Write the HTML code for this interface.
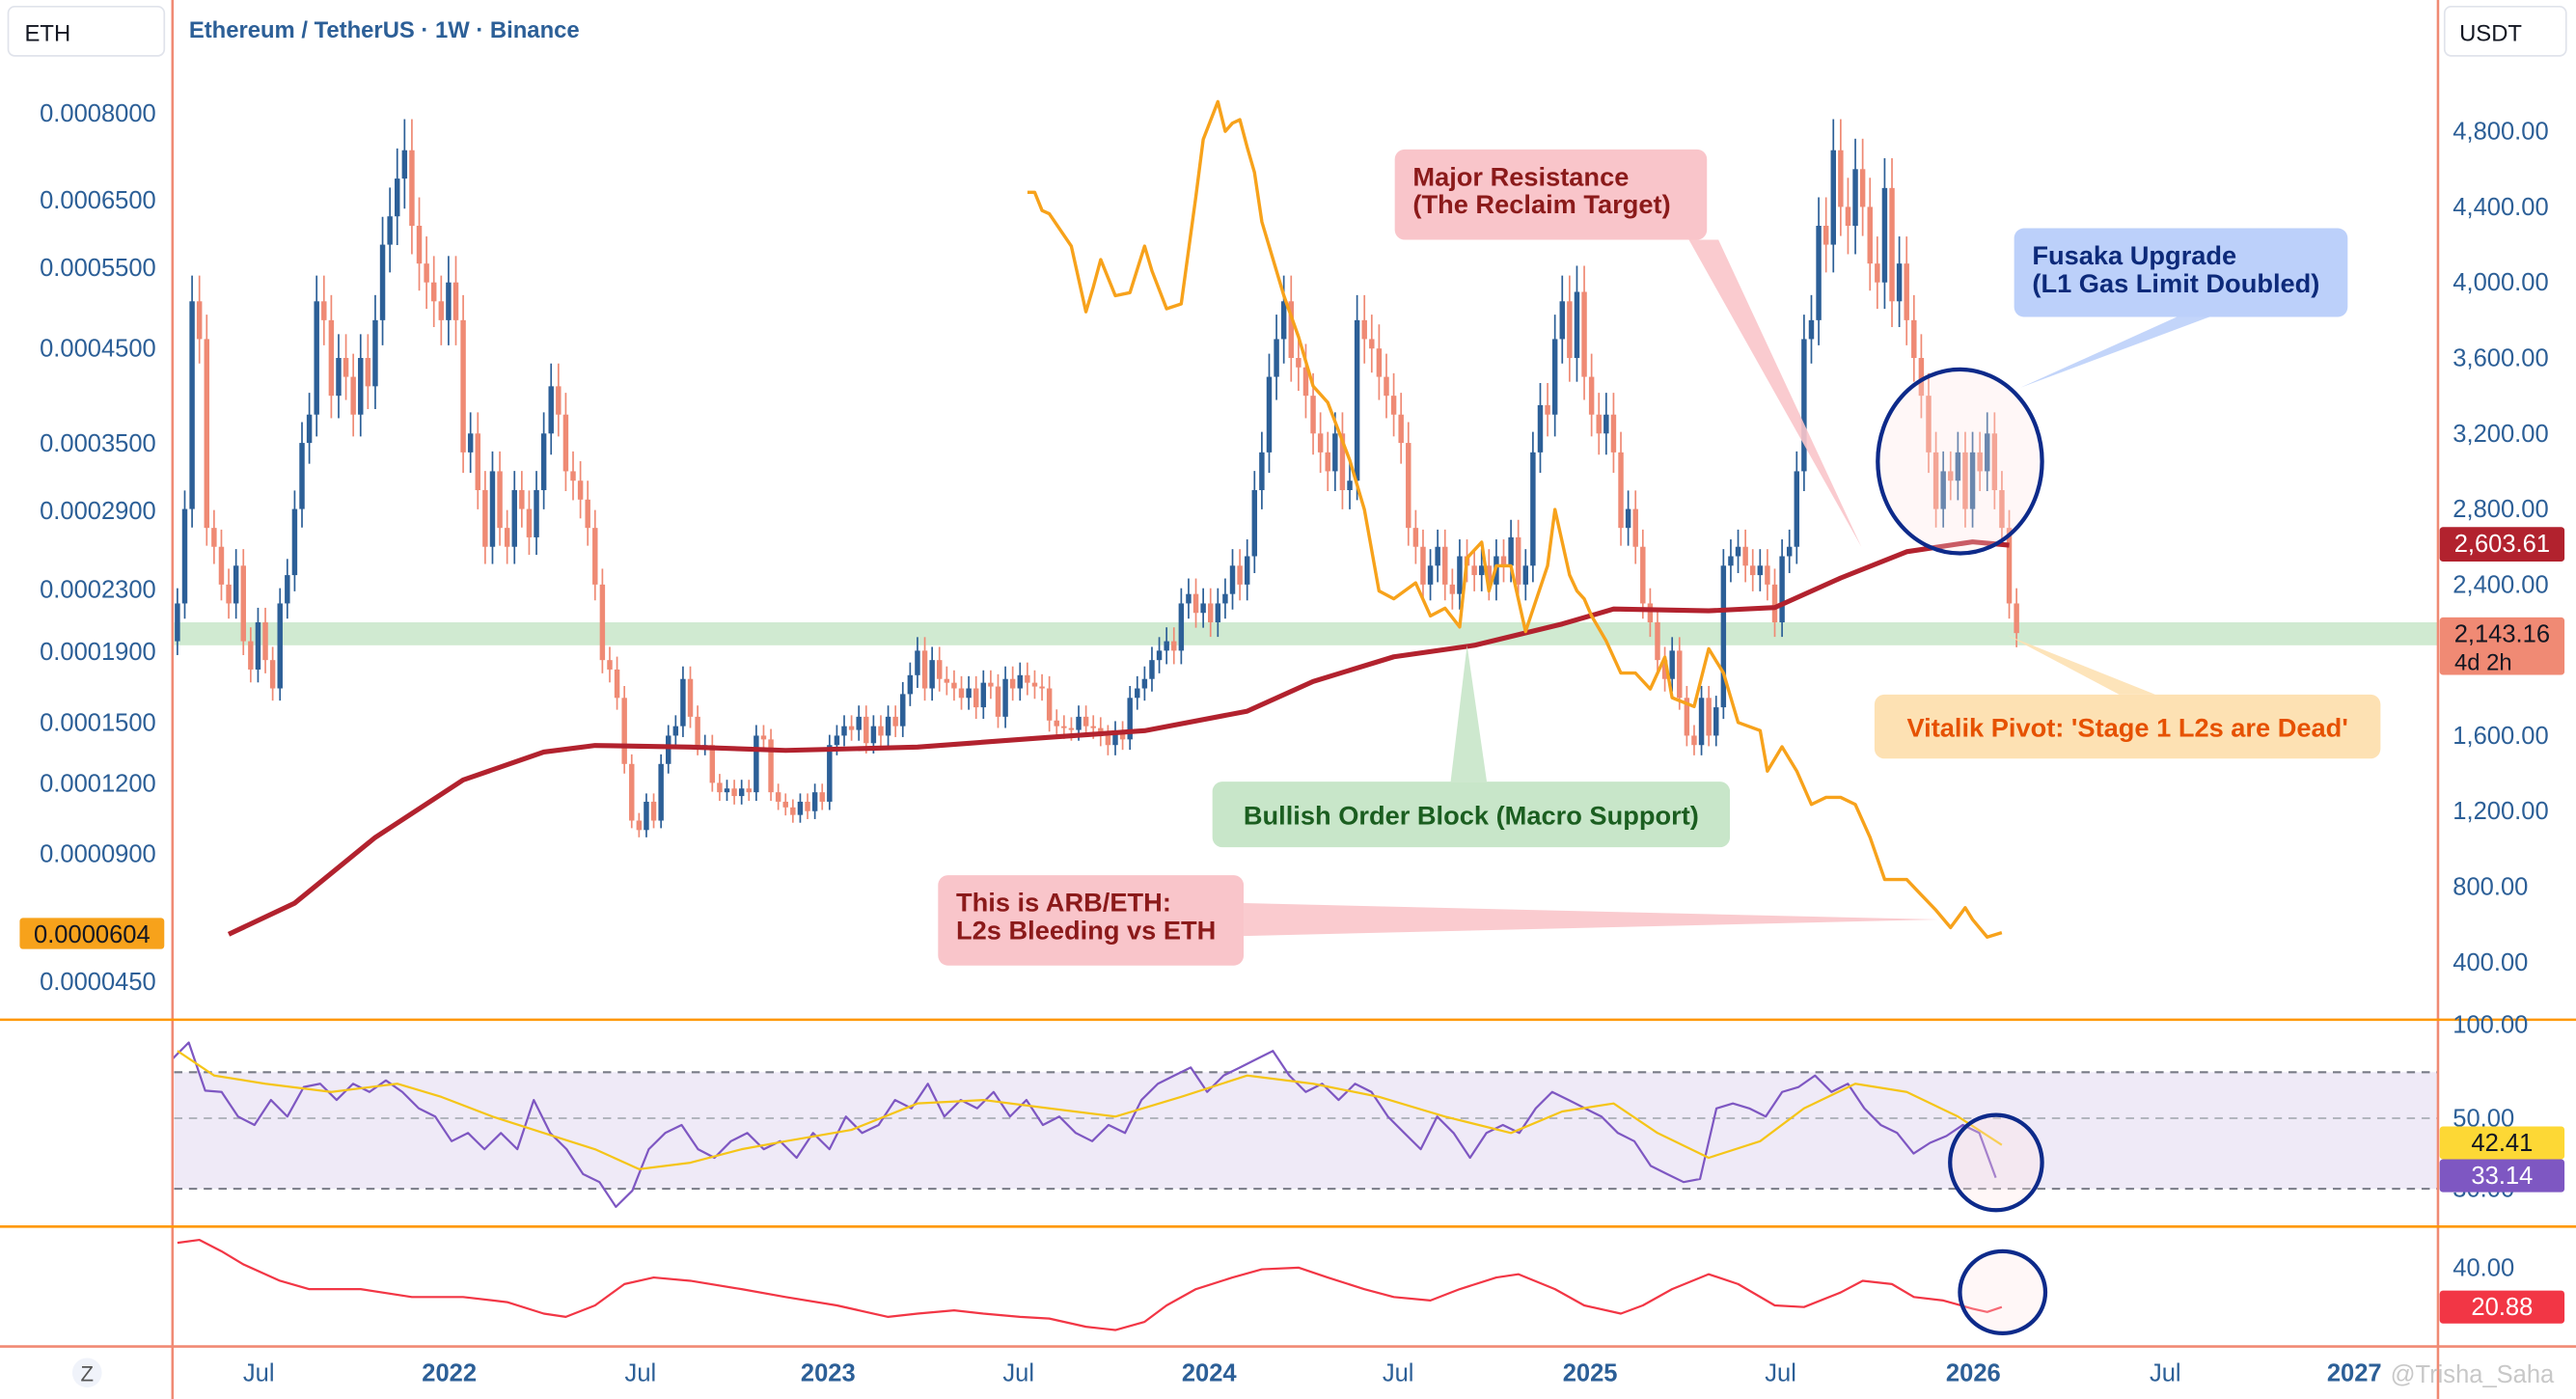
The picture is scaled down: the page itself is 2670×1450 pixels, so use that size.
<!DOCTYPE html>
<html><head><meta charset="utf-8"><style>
html,body{margin:0;padding:0;background:#fff;}
svg{display:block;font-family:"Liberation Sans",sans-serif;}
</style></head><body>
<svg id="chart" width="2670" height="1450" viewBox="0 0 1568 852" preserveAspectRatio="none" xmlns="http://www.w3.org/2000/svg">
<rect x="0" y="0" width="1568" height="852" fill="#fff"/>
<g id="bands"></g>
<g id="candles"></g>
<g id="lines"></g>
<g id="annot"></g>
<g id="axes"></g>
</svg>
<script>
// ---------------- DATA ----------------
const closes = [2300,2800,3900,3700,2700,2600,2400,2300,2500,2100,1950,2200,2000,1850,2300,2450,2800,3150,3300,3900,3800,3400,3600,3500,3300,3600,3450,3800,4200,4350,4550,4700,4300,4100,4000,3900,3800,4000,3800,3100,3200,2900,2600,3000,2700,2600,2900,2800,2650,2900,3200,3450,3300,3000,2950,2850,2700,2400,2000,1950,1800,1450,1150,1100,1250,1150,1450,1600,1650,1900,1700,1550,1550,1350,1300,1320,1280,1320,1300,1600,1580,1300,1250,1220,1180,1250,1200,1300,1250,1550,1600,1650,1630,1700,1560,1650,1600,1700,1650,1820,1920,2050,1850,2000,1900,1880,1850,1800,1850,1750,1880,1860,1700,1900,1850,1920,1880,1860,1850,1680,1650,1640,1630,1700,1650,1640,1600,1550,1620,1580,1800,1850,1900,2000,2050,2100,2050,2300,2350,2250,2300,2200,2300,2350,2500,2400,2550,2900,3100,3500,3700,3900,3600,3550,3400,3200,3100,3000,3200,2900,2950,3800,3700,3650,3500,3400,3300,3150,2700,2600,2400,2500,2600,2400,2350,2550,2500,2450,2500,2400,2550,2500,2650,2400,2500,3100,3350,3300,3700,3900,3600,3950,3500,3300,3200,3300,3100,2700,2800,2600,2300,2200,2000,1900,2050,1800,1600,1550,1800,1600,1750,2500,2550,2600,2500,2450,2500,2400,2200,2550,2600,3000,3700,3800,4300,4200,4700,4400,4300,4600,4400,4100,4000,4500,3900,4100,3800,3600,3400,3100,2800,3000,2950,3100,2800,3100,3000,3200,2900,2700,2300,2143];
const firstOpen = 2100;
const maWeeks = [7,16,27,39,50,57,70,83,101,119,132,146,155,166,177,189,196,209,218,227,236,245,250];
const maValues = [548,713,1061,1365,1513,1548,1539,1522,1539,1591,1626,1730,1887,2017,2078,2191,2270,2261,2278,2435,2574,2626,2609];
const arbWeeks = [116,117,118,119,122,124,125,126,128,130,132,133,135,137,139,140,142,143,144,145,146,147,148,151,153,155,157,160,162,164,166,169,171,173,175,176,178,179,180,182,184,187,188,190,191,192,193,195,197,199,201,203,204,207,209,211,213,216,217,219,221,223,225,227,229,231,233,236,238,240,242,244,245,247,249];
const arbValues = [6.64,6.64,6.35,6.30,5.82,4.95,5.26,5.62,5.15,5.19,5.82,5.46,4.99,5.05,6.56,7.55,8.20,7.69,7.83,7.89,7.41,6.98,6.18,5.15,4.64,4.10,3.93,3.35,2.91,2.29,2.24,2.35,2.13,2.18,2.06,2.54,2.66,2.29,2.48,2.48,2.03,2.48,2.91,2.41,2.29,2.24,2.13,1.97,1.78,1.78,1.69,1.87,1.64,1.59,1.92,1.78,1.50,1.46,1.26,1.38,1.26,1.11,1.14,1.14,1.11,0.97,0.80,0.80,0.74,0.68,0.62,0.69,0.645,0.59,0.604]; // x1e-4 ETH
const rsiValues = [75.7,82.9,62,61.4,50.7,48.1,57.9,50.7,63.6,65,57.9,65,61.4,66.4,61.4,54.3,50.7,43.5,45.8,41.2,45.8,41.2,57.9,45.8,41.2,34.2,31.9,24.9,29.5,41.2,45.8,48.1,41.2,38.8,43.5,45.8,41.2,43.5,38.8,45.8,41.2,50.7,45.8,48.1,57.9,54.3,65,50.7,57.9,54.3,61.4,50.7,57.9,48.1,50.7,45.8,43.5,48.1,45.8,57.9,65,68.6,72.1,61.4,68.6,72.1,75.7,79.3,68.6,61.4,65,57.9,65,61.4,50.7,45.8,41.2,50.7,45.8,38.8,45.8,48.1,45.8,54.3,61.4,57.9,54.3,50.7,45.8,43.5,36.5,34.2,31.9,32.8,54.3,56.4,54.3,50.7,61.4,63.6,68.6,61.4,65,54.3,48.1,45.8,40,43,45,48.1,45.8,33.14];
const rsiStartWeek = -0.7, rsiStepWeeks = 2.242;
const rsiMaWeeks = [0,5,12,21,30,36,43,50,57,63,70,77,83,92,101,110,119,128,137,146,155,164,173,182,189,196,202,209,216,222,229,236,243,249];
const rsiMaValues = [79.3,68.6,65,61.4,65,59.3,50.7,45.8,41.2,35.6,37.4,41.2,43.5,46.7,56.4,57.9,54.3,50.7,59.3,68.6,65,59.3,50.7,45.8,52.9,56.4,45.8,38.8,43.5,54.3,65,61.4,50.7,42.41];
const adxWeeks = [0,3,6,9,14,18,25,32,39,45,50,53,57,61,65,70,77,83,90,97,101,106,110,115,119,124,128,132,135,139,144,148,153,157,162,166,171,175,180,183,188,192,197,200,204,209,213,218,222,227,230,234,237,241,245,247,249];
const adxValues = [52,53.5,48,41.6,33.6,29.6,29.6,25.7,25.7,23.3,17.7,16.1,21.7,32,35.2,33.6,29.6,25.7,21.7,16.1,17.7,19.3,17.7,16.1,15.3,11.3,9.7,13.7,21.7,29.6,35.2,39.2,40,35.2,29.6,25.7,24.1,29.6,35.2,36.8,29.6,21.7,17.7,21.7,29.6,36.8,32,21.7,20.9,28,33.6,32,25.7,24.1,20.1,18.5,20.88];
const rightTicks = [4800,4400,4000,3600,3200,2800,2400,1600,1200,800,400];
const rightTickLabels = ["4,800.00","4,400.00","4,000.00","3,600.00","3,200.00","2,800.00","2,400.00","1,600.00","1,200.00","800.00","400.00"];
const leftTicks = [8.0,6.5,5.5,4.5,3.5,2.9,2.3,1.9,1.5,1.2,0.9,0.45];
const leftTickLabels = ["0.0008000","0.0006500","0.0005500","0.0004500","0.0003500","0.0002900","0.0002300","0.0001900","0.0001500","0.0001200","0.0000900","0.0000450"];
const leftScaleVals = [8.0,6.5,5.5,4.5,3.5,2.9,2.3,1.9,1.5,1.2,0.9,0.65,0.45];
const timeLabels = ["Jul","2022","Jul","2023","Jul","2024","Jul","2025","Jul","2026","Jul","2027"];
const timeWeeks = [11.1,37.1,63.2,88.8,114.8,140.8,166.6,192.8,218.8,245.1,271.3,297.1];

// -------------- SCALES --------------
const NS="http://www.w3.org/2000/svg";
function mk(tag,attrs,parent){const e=document.createElementNS(NS,tag);for(const k in attrs)e.setAttribute(k,attrs[k]);(parent||document.getElementById('chart')).appendChild(e);return e;}
function xW(w){return 108+w*4.46;}
function yP(p){return 586-(p-400)*46/400;}
const leftScaleY=[69,122,163,212,270,311,359,397,440,477,520,559,598];
function yL(v){
  for(let i=0;i<leftScaleVals.length-1;i++){const a=leftScaleVals[i],b=leftScaleVals[i+1];
    if(v<=a&&v>=b)return leftScaleY[i]+(a-v)/(a-b)*(leftScaleY[i+1]-leftScaleY[i]);}
  if(v>8)return 69-(v-8)/1.5*53;return 598+(0.45-v)/0.2*39;}
function yRsi(v){ if(v>=70)return 653-(v-70)*1.4; if(v>=50)return 681-(v-50)*1.4; return 724-(v-30)*2.15; }
function yA(v){return 772-(v-40)*1.255;}

// -------------- BANDS / PANES --------------
const bands=document.getElementById('bands');
let e;
e=mk('rect',{x:106,y:379,width:1378,height:14,fill:'#c8e6c9','fill-opacity':0.85},bands);

e=mk('rect',{x:106,y:653,width:1378,height:71,fill:'#efeaf7'},bands);

[[653,'#787b86'],[681,'#b2b5be'],[724,'#787b86']].forEach(d=>{mk('line',{x1:106,x2:1484,y1:d[0],y2:d[0],stroke:d[1],'stroke-width':1.2,'stroke-dasharray':'5,4'},bands);});

// -------------- CANDLES --------------
const cg=document.getElementById('candles');
let prev=firstOpen;
closes.forEach((c,i)=>{
  const o=prev;prev=c;const up=c>=o;const col=up?'#2c5f97':'#ef8a74';
  const hi=Math.max(o,c)*1.035,lo=Math.min(o,c)*0.965;const x=xW(i);
  const g=mk('g',{},cg);
  
  
  mk('line',{x1:x,x2:x,y1:yP(hi),y2:yP(lo),stroke:col,'stroke-width':1},g);
  const t=Math.min(yP(o),yP(c));const h=Math.max(1,Math.abs(yP(o)-yP(c)));
  mk('rect',{x:x-1.6,y:t,width:3.2,height:h,fill:col},g);
});

// -------------- LINES --------------
const lg=document.getElementById('lines');
function poly(ws,vs,xf,yf,col,wd,name){const p=vs.map((v,i)=>xf(ws[i]).toFixed(1)+','+yf(v).toFixed(1)).join(' ');
  const el=mk('polyline',{points:p,fill:'none',stroke:col,'stroke-width':wd,'stroke-linejoin':'round'},lg);
  return el;}
poly(maWeeks,maValues,xW,yP,'#b2222e',3,'ma-200-week');
poly(arbWeeks,arbValues,xW,yL,'#f7a21b',2,'arb-eth-line');
const rsiW=rsiValues.map((v,i)=>rsiStartWeek+i*rsiStepWeeks);
poly(rsiW,rsiValues,xW,yRsi,'#7e57c2',1.3,'rsi-line');
poly(rsiMaWeeks,rsiMaValues,xW,yRsi,'#f5c518',1.3,'rsi-ma-line');
poly(adxWeeks,adxValues,xW,yA,'#f23645',1.3,'adx-line');

// -------------- AXES / ANNOTATIONS --------------
const ax=document.getElementById('axes');
const an=document.getElementById('annot');
function T(txt,x,y,opt,parent,name,inter){const t=mk('text',Object.assign({x:x,y:y,'font-size':15,fill:'#2c5f97'},opt||{}),parent||ax);t.textContent=txt;
  return t;}
mk('line',{x1:105,x2:105,y1:0,y2:852,stroke:'#f08a74','stroke-width':1.5},ax);
mk('line',{x1:1484,x2:1484,y1:0,y2:852,stroke:'#f08a74','stroke-width':1.5},ax);
mk('line',{x1:0,x2:1568,y1:621,y2:621,stroke:'#ff9800','stroke-width':1.5},ax);
mk('line',{x1:0,x2:1568,y1:747,y2:747,stroke:'#ff9800','stroke-width':1.5},ax);
mk('line',{x1:0,x2:1568,y1:820,y2:820,stroke:'#f08a74','stroke-width':1.5},ax);
rightTicks.forEach((p,i)=>T(rightTickLabels[i],1493,yP(p)+5,{},ax,'right-axis-tick'));
leftTicks.forEach((v,i)=>T(leftTickLabels[i],95,yL(v)+5,{'text-anchor':'end'},ax,'left-axis-tick'));
T('100.00',1493,629,{},ax,'rsi-axis-tick');T('50.00',1493,686,{},ax,'rsi-axis-tick');T('30.00',1493,729,{},ax,'rsi-axis-tick');
T('40.00',1493,777,{},ax,'adx-axis-tick');
timeLabels.forEach((l,i)=>T(l,xW(timeWeeks[i]),841,{'text-anchor':'middle','font-weight':/^\d/.test(l)?'bold':'normal'},ax,'time-axis-tick'));
mk('rect',{x:5,y:4,width:95,height:30,rx:4,fill:'#fff',stroke:'#e0e3eb'},ax);
T('ETH',15,25,{fill:'#131722','font-size':14},ax,'symbol-box','true');
mk('rect',{x:1488,y:4,width:74,height:30,rx:4,fill:'#fff',stroke:'#e0e3eb'},ax);
T('USDT',1497,25,{fill:'#131722','font-size':14},ax,'currency-box','true');
T('Ethereum / TetherUS · 1W · Binance',115,23,{'font-size':14,'font-weight':'bold'},ax,'chart-title');
function tag(x,y,w,h,bg,txt,fg,name,sub){mk('rect',{x:x,y:y,width:w,height:h,rx:2,fill:bg},ax);T(txt,x+w/2,y+15,{'text-anchor':'middle',fill:fg},ax,name);if(sub)T(sub,x+9,y+32,{fill:fg,'font-size':14},ax,name+'-countdown');}
tag(1485,321,76,21,'#b2222e','2,603.61','#fff','ma-price-tag');
tag(1485,376,76,35,'#f08a74','2,143.16','#131722','last-price-tag','4d 2h');
tag(12,559,88,19,'#f7a21b','0.0000604','#131722','arb-price-tag');
tag(1485,686,76,20,'#fdd835','42.41','#131722','rsi-ma-tag');
tag(1485,706,76,20,'#7e57c2','33.14','#fff','rsi-tag');
tag(1485,786,76,20,'#f23645','20.88','#fff','adx-tag');
mk('circle',{cx:53,cy:836,r:9,fill:'#f0f3fa'},ax);T('Z',53,841,{'text-anchor':'middle','font-size':13,fill:'#555'},ax,'zoom-reset','true');
T('@Trisha_Saha',1455,842,{'font-size':15,fill:'#c8c8c8'},ax,'watermark');
function callout(bx,by,bw,bh,bg,fg,lines,ptr,name){
  mk('polygon',{points:ptr,fill:bg,'fill-opacity':0.9},an);
  mk('rect',{x:bx,y:by,width:bw,height:bh,rx:6,fill:bg},an);
  lines.forEach((l,i)=>T(l,bx+(lines.length==1?bw/2:11),by+(lines.length==1?bh/2+6:22+i*17),{'font-size':16,'font-weight':'bold',fill:fg,'text-anchor':lines.length==1?'middle':'start'},an,name));
}
callout(849,91,190,55,'#f9c5ca','#8b1a1a',['Major Resistance','(The Reclaim Target)'],'1028,146 1046,146 1133,333','major-resistance-callout');
callout(1226,139,203,54,'#bcd0fa','#0d2a7a',['Fusaka Upgrade','(L1 Gas Limit Doubled)'],'1325,193 1345,193 1230,236','fusaka-callout');
callout(1141,423,308,39,'#fde1b3','#e65100',["Vitalik Pivot: 'Stage 1 L2s are Dead'"],'1290,423 1312,423 1222,387','vitalik-callout');
callout(738,476,315,40,'#c8e6c9','#1b5e20',['Bullish Order Block (Macro Support)'],'883,476 905,476 893,393','order-block-callout');
callout(571,533,186,55,'#f9c5ca','#8b1a1a',['This is ARB/ETH:','L2s Bleeding vs ETH'],'757,550 757,570 1180,560','arb-eth-callout');
[[1193,281,50,56],[1215,708,28,29],[1219,787,26,25]].forEach(c=>{const el=mk('ellipse',{cx:c[0],cy:c[1],rx:c[2],ry:c[3],fill:'#ffe4e4','fill-opacity':0.3,stroke:'#0d2a8a','stroke-width':2.5},an);
 });
</script>
</body></html>
